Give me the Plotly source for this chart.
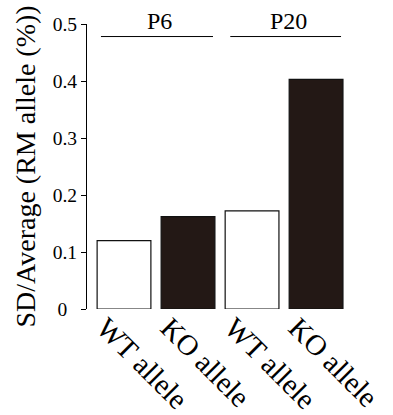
import plotly.graph_objects as go

categories = ["WT allele", "KO allele", "WT allele", "KO allele"]
values = [0.12, 0.162, 0.172, 0.403]
fill_colors = ["#ffffff", "#231815", "#ffffff", "#231815"]
groups = ["P6", "P20"]
group_spans = [(-0.36, 1.39), (1.66, 3.39)]
y_ticks = [0, 0.1, 0.2, 0.3, 0.4, 0.5]
y_tick_text = ["0\u00a0\u00a0", "0.1", "0.2", "0.3", "0.4", "0.5"]
y_title = "SD/Average (RM allele (%))"

font_family = "Liberation Serif"
x_idx = list(range(len(categories)))

fig = go.Figure()
fig.add_trace(go.Bar(
    x=x_idx, y=values,
    marker=dict(color=fill_colors, line=dict(color="#111111", width=1.2)),
    width=0.84,
    showlegend=False,
))

for (x0, x1) in group_spans:
    fig.add_shape(type="line", xref="x", yref="y", x0=x0, x1=x1, y0=0.478, y1=0.478,
                  line=dict(color="black", width=1))
for name, (x0, x1) in zip(groups, group_spans):
    fig.add_annotation(x=(x0 + x1) / 2 + 0.04, y=0.478, xref="x", yref="y", text=name,
                       showarrow=False, yanchor="bottom", yshift=1,
                       font=dict(family=font_family, size=24, color="black"))

# y-axis title as rotated annotation for precise placement
fig.add_annotation(x=0, y=0.5, xref="paper", yref="paper", text=y_title,
                   textangle=-90, showarrow=False, xanchor="center", yanchor="middle",
                   xshift=-62, font=dict(family=font_family, size=28, color="black"))

fig.update_layout(
    width=393, height=415,
    margin=dict(l=87, r=43, t=24, b=106),
    paper_bgcolor="white", plot_bgcolor="white",
    font=dict(family=font_family, color="black"),
    xaxis=dict(
        range=[-0.578, 3.53],
        tickvals=x_idx, ticktext=categories, tickangle=45,
        tickfont=dict(size=29, family=font_family, color="black"),
        ticklabelshift=-19,
        ticklabelstandoff=-5,
        automargin=False,
        showline=False, showgrid=False, zeroline=False, ticks="",
    ),
    yaxis=dict(
        range=[0, 0.5],
        tickvals=y_ticks, ticktext=y_tick_text,
        tickfont=dict(size=19.5, family=font_family, color="black"),
        showline=True, linecolor="black", linewidth=1,
        ticks="outside", ticklen=5, tickwidth=1, tickcolor="black",
        showgrid=False, zeroline=False,
        automargin=False,
    ),
)

fig.write_html("out.html", post_script="document.body.style.margin='0';",
               config={"displayModeBar": False})
